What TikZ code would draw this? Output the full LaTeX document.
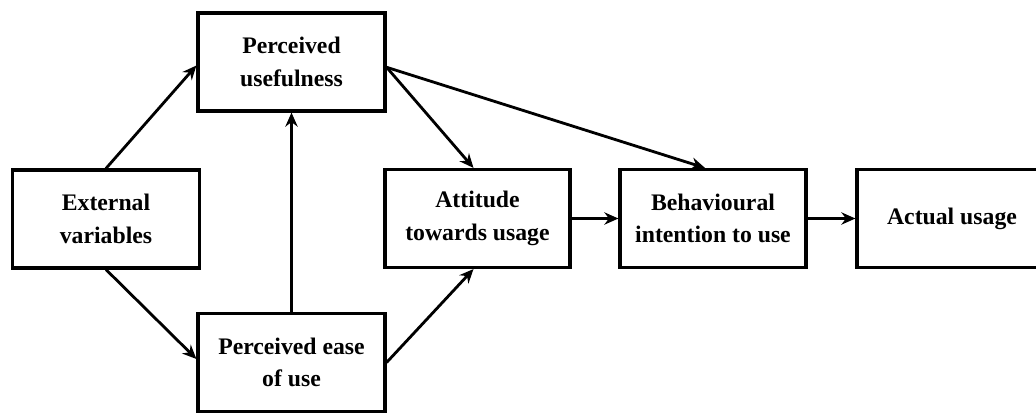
\documentclass[tikz,border=0pt]{standalone}
\usepackage{fontspec}
\setmainfont{Liberation Serif}
\usepackage{tikz}
\usetikzlibrary{shapes,arrows.meta,positioning}

\tikzset{
  tambox/.style={draw, line width=1.8pt, minimum width=3.74cm, minimum height=1.96cm,
    align=center, font=\fontsize{13.5}{18.5}\selectfont\bfseries, inner sep=2pt},
  tamarrow/.style={line width=1.6pt, -{Stealth[length=8pt,width=7pt]}}
}

\begin{document}
\begin{tikzpicture}
            \useasboundingbox (0,0) rectangle (20.72,-8.28);
            \fill[white] (0,0) rectangle (20.72,-8.28);
            \node[tambox] (ext) at (2.12,-4.38) {External\\variables};
            \node[tambox] (pu) at (5.83,-1.24) {Perceived\\usefulness};
            \node[tambox] (peou) at (5.83,-7.25) {Perceived ease\\of use};
            \node[tambox, minimum width=3.70cm] (att) at (9.55,-4.37) {Attitude\\towards usage};
            \node[tambox, minimum width=3.72cm] (bi) at (14.26,-4.37) {Behavioural\\intention to use};
            \node[tambox, minimum width=3.80cm] (use) at (19.04,-4.37) {Actual usage};
            % arrows
            \draw[tamarrow] (ext.north) -- ([yshift=-2pt]pu.west);
            \draw[tamarrow] (ext.south) -- ([yshift=2pt]peou.west);
            \draw[tamarrow] (peou.north) -- (pu.south);
            \draw[tamarrow] ([yshift=-3pt]pu.east) -- ([xshift=-0.08cm]att.north);
            \draw[tamarrow] ([yshift=-3pt]pu.east) -- ([xshift=-0.16cm]bi.north);
            \draw[tamarrow] (peou.east) -- ([xshift=-0.08cm]att.south);
            \draw[tamarrow] (att) -- (bi);
            \draw[tamarrow] (bi) -- (use);
        \end{tikzpicture}
\end{document}
